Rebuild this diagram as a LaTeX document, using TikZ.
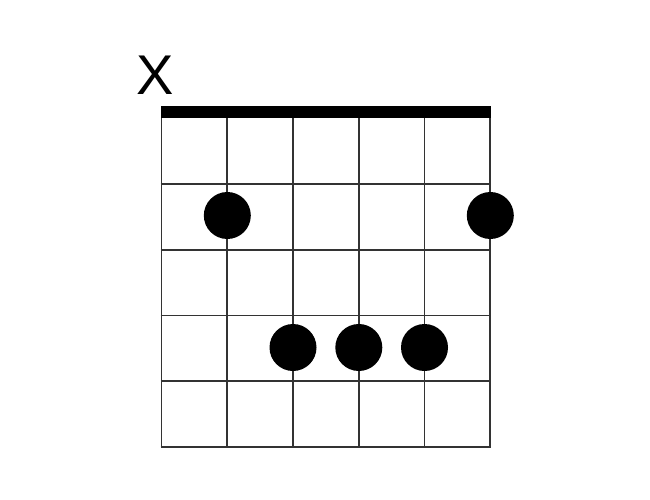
\documentclass[tikz,border=0pt]{standalone}
\usepackage{fontspec}
\setmainfont{Liberation Sans}
\begin{document}
\begin{tikzpicture}[x=1pt,y=-1pt,
  gridline/.style={draw=black!80,line width=1.8pt},
  fingerdot/.style={circle,fill=black,minimum size=47pt,inner sep=0pt},
  mutemark/.style={inner sep=0pt,anchor=base,font=\fontsize{56}{56}\selectfont}]
\useasboundingbox (0,0) rectangle (650,500);
\fill[white] (0,0) rectangle (650,500);
% strings
\foreach \i in {0,...,5} {
  \draw[gridline] ({161.5+65.76*\i},118) -- ({161.5+65.76*\i},447);
}
% frets
\foreach \j in {1,...,5} {
  \draw[gridline] (160.6,{118+65.8*\j}) -- (491.2,{118+65.8*\j});
}
% nut
\fill[black] (160.6,106.5) rectangle (491.2,118);
\node[mutemark] (mute) at (155.5,95) {X};
\node[fingerdot] (d1) at (227.3,215.5) {};
\node[fingerdot] (d2) at (490.3,215.5) {};
\node[fingerdot] (d3) at (293,347.5) {};
\node[fingerdot] (d4) at (358.8,347.5) {};
\node[fingerdot] (d5) at (424.5,347.5) {};
\end{tikzpicture}
\end{document}
